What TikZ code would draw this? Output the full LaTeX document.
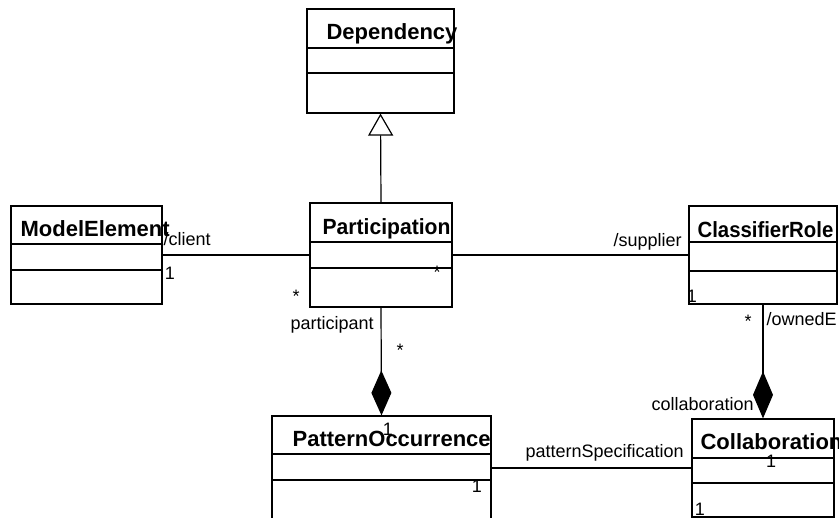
\documentclass[tikz,border=0pt]{standalone}
\usepackage{fontspec}
\setmainfont{Liberation Sans}
\usetikzlibrary{arrows.meta}
\begin{document}
\begin{tikzpicture}[x=1pt,y=-1pt,line width=1.2pt,
  cls/.style={draw,rectangle,inner sep=0pt,fill=white},
  ttl/.style={anchor=base west,inner sep=0pt,font=\fontsize{22}{26}\selectfont\bfseries},
  lbl/.style={anchor=base west,inner sep=0pt,font=\fontsize{18}{22}\selectfont},
  mult/.style={anchor=base,inner sep=0pt,font=\fontsize{18}{22}\selectfont}]
\useasboundingbox (0,0) rectangle (839,518);
% class boxes
\node[cls,minimum width=147pt,minimum height=104pt] (dep) at (380.5,61) {};
\node[cls,minimum width=151pt,minimum height=98pt] (me) at (86.5,255) {};
\node[cls,minimum width=142pt,minimum height=104pt] (part) at (381,255) {};
\node[cls,minimum width=148pt,minimum height=98pt] (cr) at (763,255) {};
\node[cls,minimum width=219pt,minimum height=104pt] (po) at (381.5,468) {};
\node[cls,minimum width=142pt,minimum height=98pt] (col) at (763,468) {};
% compartments
\draw (dep.west |- 0,48) -- (dep.east |- 0,48);
\draw (dep.west |- 0,73) -- (dep.east |- 0,73);
\draw (me.west |- 0,244) -- (me.east |- 0,244);
\draw (me.west |- 0,270) -- (me.east |- 0,270);
\draw (part.west |- 0,242) -- (part.east |- 0,242);
\draw (part.west |- 0,268) -- (part.east |- 0,268);
\draw (cr.west |- 0,242) -- (cr.east |- 0,242);
\draw (cr.west |- 0,271) -- (cr.east |- 0,271);
\draw (po.west |- 0,454) -- (po.east |- 0,454);
\draw (po.west |- 0,480) -- (po.east |- 0,480);
\draw (col.west |- 0,458) -- (col.east |- 0,458);
\draw (col.west |- 0,483) -- (col.east |- 0,483);
% titles
\node[ttl] (depT) at (326,40) {Dependency};
\node[ttl] (meT) at (20,237) {ModelElement};
\node[ttl] (partT) at (322,235) {\scalebox{0.96}[1]{Participation}};
\node[ttl] (crT) at (697,238) {\scalebox{0.925}[1]{ClassifierRole}};
\node[ttl] (poT) at (292,447) {PatternOccurrence};
\node[ttl] (colT) at (700,450) {Collaboration};
% connectors
\draw (me.east) -- (part.west);
\draw (part.east) -- (cr.west);
\draw[-{Triangle[open,length=22pt,width=25pt,fill=white]}] (part.north) -- (dep.south);
\draw[-{Diamond[length=45pt,width=20pt]}] (part.south) -- (po.north);
\draw[-{Diamond[length=47pt,width=20pt]}] (cr.south) -- (col.north);
\draw (po.east) -- (col.west);
% role labels
\node[lbl] (l1) at (163,246) {/client};
\node[lbl] (l2) at (613,247) {/supplier};
\node[lbl] (l3) at (290,330) {participant};
\node[lbl] (l4) at (766,326) {/ownedE};
\node[lbl] (l5) at (651,411) {collaboration};
\node[lbl] (l6) at (525,458) {patternSpecification};
% multiplicities
\node[mult] (m1) at (170,279.5) {1};
\node[mult] (m2) at (296,303) {*};
\node[mult] (m3) at (437,279) {*};
\node[mult] (m4) at (400,357) {*};
\node[mult] (m5) at (388,436) {1};
\node[mult] (m6) at (692,303) {1};
\node[mult] (m7) at (748,328) {*};
\node[mult] (m8) at (477,493) {1};
\node[mult] (m9) at (771,468) {1};
\node[mult] (m10) at (700,516) {1};
\end{tikzpicture}
\end{document}
